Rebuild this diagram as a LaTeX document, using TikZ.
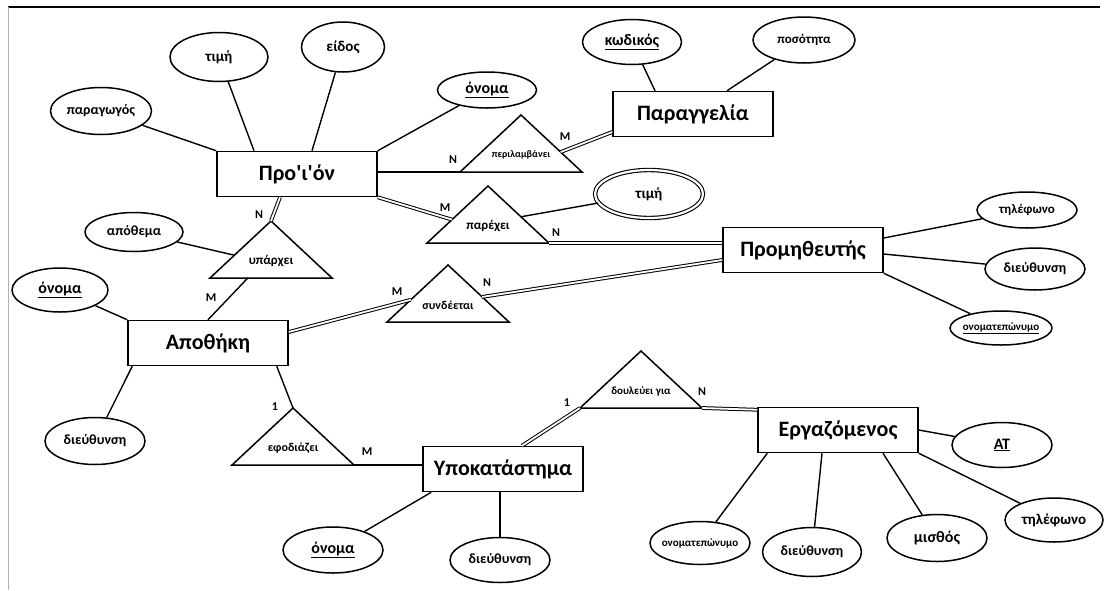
\documentclass[tikz,border=0pt]{standalone}
\usepackage{fontspec}
\setmainfont{Carlito}[Ligatures=ResetAll]
\usetikzlibrary{shapes.geometric,calc}

% centred text that does not widen the surrounding shape
\newcommand\attrtext[1]{\makebox[0pt]{#1}}
\newcommand\fs[1]{\fontsize{#1}{#1}\selectfont\bfseries}

\begin{document}
\begin{tikzpicture}[x=1pt,y=-1pt,
  shape line/.style={line width=1.5pt},
  entity/.style={draw, shape line, rectangle, minimum width=160pt, minimum height=45pt,
    inner sep=0pt, font=\fs{22}},
  attr/.style={draw, shape line, ellipse, inner sep=0pt, minimum width=100pt,
    minimum height=45pt, font=\fs{14}},
  conn/.style={line width=1.4pt},
  dbl/.style={double, double distance=1.8pt, line width=1pt},
  card/.style={inner sep=0pt, font=\fs{12}},
  rel/.pic={
    \coordinate (-l) at (-61,0);
    \coordinate (-r) at (61,0);
    \coordinate (-a) at (0,-57);
    \draw[shape line, line join=miter] (-l) -- (-a) -- (-r) -- cycle;
    \node[inner sep=0pt] (-t) at (0,-17) {#1};
  }
]
\useasboundingbox (0,0) rectangle (1105,590);

% page frame
\coordinate (tl) at (8,7);
\coordinate (tr) at (1100,7);
\coordinate (bl) at (8,590);
\draw[line width=1.2pt] (tl) -- (tr);
\draw[gray!60, line width=1pt] (tl) -- (bl);

% entities
\node[entity] (proion) at (297,174) {Προ\textquotesingle ι\textquotesingle όν};
\node[entity] (paragg) at (693,114) {Παραγγελία};
\node[entity] (prom)   at (803,250) {Προμηθευτής};
\node[entity] (apoth)  at (208,343) {Αποθήκη};
\node[entity] (ypok)   at (503,469) {Υποκατάστημα};
\node[entity] (ergaz)  at (838,430) {Εργαζόμενος};

% relationships
\pic (per) at (521,172) {rel={\fs{10}περιλαμβάνει}};
\pic (par) at (488,243) {rel={\fs{13}παρέχει}};
\pic (ypa) at (271,278) {rel={\fs{13}υπάρχει}};
\pic (syn) at (448,322) {rel={\fs{12}συνδέεται}};
\pic (efo) at (293,465) {rel={\fs{12}εφοδιάζει}};
\pic (dou) at (641,408) {rel={\fs{11}δουλεύει για}};

% attributes
\node[attr, minimum width=101pt, minimum height=47pt] (a_paragogos) at (101,111) {\attrtext{παραγωγός}};
\node[attr, minimum width=98pt, minimum height=49pt, font=\fs{15}] (a_timi) at (219,57) {\attrtext{τιμή}};
\node[attr, minimum width=83pt, minimum height=50pt, font=\fs{15}] (a_eidos) at (343,47) {\attrtext{είδος}};
\node[attr, minimum width=99pt, minimum height=36pt, font=\fs{16}] (a_onoma1) at (487,90) {\attrtext{\underline{όνομα}}};
\node[attr, minimum width=99pt, minimum height=45pt, font=\fs{16}] (a_kodikos) at (632,42) {\attrtext{\underline{κωδικός}}};
\node[attr, minimum width=102pt, minimum height=46pt, font=\fs{13}] (a_posotita) at (804,40) {\attrtext{ποσότητα}};
\node[attr, double, double distance=2.2pt, line width=1.1pt, minimum width=108pt, minimum height=48pt,
  font=\fs{15}] (a_timi2) at (649,194) {\attrtext{τιμή}};
\node[attr, minimum width=100pt, minimum height=36pt, font=\fs{13}] (a_til1) at (1027,210) {\attrtext{τηλέφωνο}};
\node[attr, minimum width=100pt, minimum height=42pt] (a_dieu1) at (1035,269) {\attrtext{διεύθυνση}};
\node[attr, minimum width=102pt, minimum height=34pt, font=\fs{11}] (a_onep1) at (1001,328) {\attrtext{\underline{ονοματεπώνυμο}}};
\node[attr, minimum width=98pt, minimum height=39pt] (a_apothema) at (134,232) {\attrtext{απόθεμα}};
\node[attr, minimum width=96pt, minimum height=44pt, font=\fs{16}] (a_onoma2) at (60,290) {\attrtext{\underline{όνομα}}};
\node[attr, minimum width=100pt, minimum height=47pt] (a_dieu2) at (95,441) {\attrtext{διεύθυνση}};
\node[attr, minimum width=100pt, minimum height=46pt, font=\fs{16}] (a_onoma3) at (333,550) {\attrtext{\underline{όνομα}}};
\node[attr, minimum width=100pt, minimum height=45pt] (a_dieu3) at (500,560) {\attrtext{διεύθυνση}};
\node[attr, minimum width=100pt, minimum height=43pt, font=\fs{11}] (a_onep2) at (700,543) {\attrtext{ονοματεπώνυμο}};
\node[attr, minimum width=99pt, minimum height=49pt] (a_dieu4) at (812,552) {\attrtext{διεύθυνση}};
\node[attr, minimum width=100pt, minimum height=47pt, font=\fs{16}] (a_misthos) at (937,538) {\attrtext{μισθός}};
\node[attr, minimum width=98pt, minimum height=44pt, font=\fs{15}] (a_til2) at (1054,520) {\attrtext{τηλέφωνο}};
\node[attr, minimum width=100pt, minimum height=45pt, font=\fs{16}] (a_at) at (1002,445) {\attrtext{\underline{ΑΤ}}};

% attribute links
\draw[conn] (a_paragogos) -- (proion.north west);
\draw[conn] (a_timi) -- ([xshift=-43pt]proion.north);
\draw[conn] (a_eidos) -- ([xshift=15pt]proion.north);
\draw[conn] (a_onoma1) -- (proion.north east);
\draw[conn] (a_kodikos) -- ([xshift=-38pt]paragg.north);
\draw[conn] (a_posotita) -- ([xshift=34pt]paragg.north);
\draw[conn] (a_til1) -- ([yshift=12pt]prom.east);
\draw[conn] (a_dieu1) -- ([yshift=-4pt]prom.east);
\draw[conn] (a_onep1) -- (prom.south east);
\draw[conn] (a_onoma2) -- (apoth.north west);
\draw[conn] (a_dieu2) -- ([xshift=5pt]apoth.south west);
\draw[conn] (a_onoma3) -- ([xshift=9pt]ypok.south west);
\draw[conn] (a_dieu3) -- ([xshift=-3pt]ypok.south);
\draw[conn] (a_at) -- (ergaz.east);
\draw[conn] (a_til2) -- (ergaz.south east);
\draw[conn] (a_misthos) -- ([xshift=45pt]ergaz.south);
\draw[conn] (a_dieu4) -- ([xshift=-16pt]ergaz.south);
\draw[conn] (a_onep2) -- ([xshift=10pt]ergaz.south west);
\draw[conn] (a_apothema) -- ($(ypa-a)!0.6!(ypa-l)$);
\draw[conn] (a_timi2) -- ($(par-a)!0.54!(par-r)$);

% relationship links
\draw[conn] (proion.east |- per-l) -- (per-l);
\draw[dbl] ($(per-a)!0.65!(per-r)$) -- ([yshift=-18pt]paragg.west);
\draw[dbl] (proion.south east) -- ($(par-a)!0.59!(par-l)$);
\draw[dbl] (par-r) -- (par-r -| prom.west);
\draw[dbl] ([xshift=-17pt]proion.south) -- (ypa-a);
\draw[conn] ($(ypa-l)!0.31!(ypa-r)$) -- (apoth.north);
\draw[dbl] ([yshift=11pt]apoth.east) -- ($(syn-a)!0.61!(syn-l)$);
\draw[dbl] ($(syn-a)!0.56!(syn-r)$) -- ([yshift=-10pt]prom.west);
\draw[conn] ([xshift=-12pt]apoth.south east) -- (efo-a);
\draw[conn] (efo-r) -- (efo-r -| ypok.west);
\draw[dbl] ([xshift=19pt]ypok.north) -- (dou-l);
\draw[dbl] (dou-r) -- ([yshift=-3pt]ergaz.north west);

% cardinalities
\node[card] (c1)  at (453,160) {N};
\node[card] (c2)  at (565,137) {M};
\node[card] (c3)  at (445,208) {M};
\node[card] (c4)  at (556,233) {N};
\node[card] (c5)  at (259,215) {N};
\node[card] (c6)  at (211,298) {M};
\node[card] (c7)  at (397,292) {M};
\node[card] (c8)  at (487,283) {N};
\node[card] (c9)  at (275,407) {1};
\node[card] (c10) at (367,452) {M};
\node[card] (c11) at (567,403) {1};
\node[card] (c12) at (702,392) {N};
\end{tikzpicture}
\end{document}
